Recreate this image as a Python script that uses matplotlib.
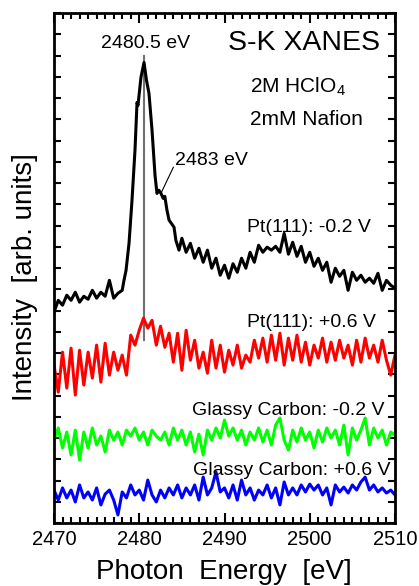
"""S-K XANES spectra: Pt(111) and glassy carbon at two potentials."""

import matplotlib

matplotlib.use("Agg")
import matplotlib.pyplot as plt
import numpy as np

# energy grid shared by the three noisy traces (0.5 eV steps)
ENERGY = np.arange(2470.0, 2510.01, 0.5)

# Pt(111) at -0.2 V, denser sampling across the white line
PT_NEG_ENERGY = [
    2470.0, 2470.5, 2471.0, 2471.5, 2472.0, 2472.5, 2473.0, 2473.5, 2474.0,
    2474.5, 2475.0, 2475.5, 2476.0, 2476.5, 2477.0, 2477.5, 2478.0, 2478.2,
    2478.45, 2478.8, 2479.15, 2479.5, 2479.74, 2479.85, 2480.2, 2480.56,
    2480.85, 2481.14, 2481.5, 2481.85, 2482.08, 2482.3, 2482.55, 2482.8,
    2483.0, 2483.25, 2483.5, 2483.84, 2484.08, 2484.3, 2484.66, 2485.0,
    2485.5, 2486.0, 2486.5, 2487.0, 2487.5, 2488.0, 2488.5, 2489.0, 2489.5,
    2490.0, 2490.5, 2491.0, 2491.5, 2492.0, 2492.5, 2493.0, 2493.5, 2494.0,
    2494.5, 2495.0, 2495.5, 2496.0, 2496.5, 2497.0, 2497.5, 2498.0, 2498.5,
    2499.0, 2499.5, 2500.0, 2500.5, 2501.0, 2501.5, 2502.0, 2502.5, 2503.0,
    2503.5, 2504.0, 2504.5, 2505.0, 2505.5, 2506.0, 2506.5, 2507.0, 2507.5,
    2508.0, 2508.5, 2509.0, 2509.5, 2510.0,
]
PT_NEG = [
    9.92, 10.48, 10.25, 10.72, 10.48, 10.86, 10.39, 10.67, 10.53,
    10.95, 10.58, 10.86, 10.67, 11.42, 10.58, 10.81, 10.95, 11.4,
    11.89, 13.16, 15.19, 17.54, 19.79, 19.65, 20.97, 21.67,
    20.83, 20.22, 18.48, 16.36, 15.51, 15.66, 15.51, 15.28,
    15.37, 14.72, 14.25, 14.06, 13.92, 13.3, 12.84, 13.4,
    12.74, 13.16, 12.46, 12.93, 12.27, 12.84, 11.99, 12.46, 11.66,
    12.13, 11.52, 12.2, 11.8, 12.46, 11.99, 12.74, 12.27, 13.07,
    12.74, 12.98, 12.84, 13.02, 12.74, 13.63, 12.65, 13.21, 12.55,
    13.02, 12.27, 12.74, 12.08, 12.46, 11.89, 12.27, 11.33, 11.99,
    11.61, 11.89, 10.95, 11.8, 11.42, 11.66, 11.33, 11.52, 11.28,
    11.75, 10.95, 11.42, 11.19, 11.05,
]

PT_POS = [
    7.43, 6.16, 8.04, 6.35, 8.23, 6.02, 8.13, 6.49, 8.04, 6.82,
    8.37, 6.63, 8.46, 6.96, 8.04, 7.19, 7.90, 6.96, 8.84, 8.37,
    9.07, 9.64, 9.17, 9.54, 8.37, 9.26, 8.27, 8.93, 7.57, 8.93,
    7.19, 9.07, 7.66, 8.60, 7.29, 8.04, 7.05, 8.60, 7.29, 8.37,
    7.10, 8.13, 7.43, 8.37, 7.29, 7.90, 7.57, 8.60, 7.76, 8.70,
    7.57, 8.84, 7.66, 8.93, 7.43, 8.70, 7.66, 8.84, 7.57, 8.51,
    7.43, 8.37, 7.76, 8.70, 7.57, 8.51, 7.66, 8.60, 7.76, 8.37,
    7.43, 8.60, 7.57, 8.70, 7.76, 8.37, 7.57, 8.60, 7.66, 6.96,
    7.90,
]

GC_NEG = [
    3.90, 4.47, 3.53, 4.28, 3.20, 4.37, 2.96, 4.28, 3.53, 4.47,
    3.67, 4.09, 3.34, 4.37, 3.90, 4.28, 3.67, 4.37, 4.09, 4.47,
    3.90, 4.28, 3.67, 4.37, 4.09, 3.90, 4.28, 3.67, 4.47, 3.90,
    4.37, 3.67, 4.28, 3.34, 4.18, 3.20, 4.37, 3.90, 4.47, 4.00,
    4.84, 4.09, 4.47, 3.90, 4.37, 3.67, 4.28, 3.90, 4.47, 3.81,
    4.37, 3.67, 4.61, 4.94, 3.90, 3.43, 4.37, 3.81, 4.47, 3.90,
    4.28, 3.53, 4.37, 3.81, 4.47, 4.00, 4.37, 3.67, 4.61, 3.20,
    4.47, 3.90, 4.37, 4.94, 3.67, 4.47, 4.00, 4.37, 3.67, 4.28,
    4.14,
]

GC_POS = [
    1.55, 1.08, 1.65, 1.18, 1.55, 0.99, 1.79, 1.18, 1.46, 1.08,
    1.65, 0.85, 1.36, 1.55, 1.08, 0.38, 1.46, 1.18, 1.79, 1.32,
    1.55, 1.08, 2.02, 1.32, 0.99, 1.55, 1.18, 1.65, 1.32, 1.79,
    1.18, 1.65, 1.32, 1.79, 1.08, 2.16, 1.32, 1.65, 2.40, 1.46,
    1.65, 1.18, 1.79, 1.08, 2.02, 1.32, 1.65, 1.08, 1.55, 1.32,
    1.79, 1.18, 1.65, 0.85, 1.93, 1.32, 1.65, 1.32, 1.79, 1.46,
    1.83, 1.55, 1.79, 1.32, 1.65, 0.85, 1.79, 1.46, 1.69, 1.41,
    1.79, 1.55, 1.93, 2.16, 1.55, 1.79, 1.46, 1.65, 1.41, 1.55,
    1.32,
]

TRACES = (
    (PT_POS, "#ff0000", "Pt(111): +0.6 V", 2492.6, 9.21),
    (GC_NEG, "#00ff00", "Glassy Carbon: -0.2 V", 2486.2, 5.08),
    (GC_POS, "#0000ff", "Glassy Carbon: +0.6 V", 2486.3, 2.26),
)


def main() -> None:
    plt.rcParams.update(
        {
            "font.family": ["Liberation Sans", "DejaVu Sans"],
            "mathtext.default": "regular",
        }
    )
    fig = plt.figure(figsize=(4.19, 5.86), dpi=100)
    ax = fig.add_axes((54 / 419, 63 / 586, 341 / 419, 510 / 586))

    ax.plot(PT_NEG_ENERGY, PT_NEG, color="black", linewidth=2.2)
    ax.text(2492.6, 13.68, "Pt(111): -0.2 V", fontsize=14, va="baseline")
    for values, color, label, x_text, y_text in TRACES:
        ax.plot(ENERGY, values, color=color, linewidth=2.2)
        ax.text(x_text, y_text, label, fontsize=14, va="baseline")

    # marker at the white-line maximum
    ax.plot([2480.5, 2480.5], [8.6, 22.0], color="#707070", linewidth=1.5,
            zorder=1)
    ax.text(2480.7, 22.33, "2480.5 eV", fontsize=14, ha="center",
            va="baseline")
    ax.plot([2482.6, 2484.0], [15.56, 16.74], color="black", linewidth=0.8)
    ax.text(2484.2, 16.83, "2483 eV", fontsize=14, va="baseline")

    ax.text(2490.4, 22.24, "S-K XANES", fontsize=20.5, va="baseline")
    ax.text(2493.0, 20.26, "2M HClO$_4$", fontsize=15, va="baseline")
    ax.text(2493.0, 18.71, "2mM Nafion", fontsize=15, va="baseline")

    ax.set_xlim(2470, 2510)
    ax.set_ylim(0, 24)
    ax.set_xticks(np.arange(2470, 2511, 10))
    ax.set_xticks(np.arange(2470, 2511, 1), minor=True)
    ax.set_yticks(np.arange(0, 25, 1))
    ax.set_yticklabels([])
    ax.tick_params(axis="both", which="both", direction="in",
                   top=True, right=True, width=1.5)
    ax.tick_params(axis="x", which="major", length=7, labelsize=14.5, pad=5)
    ax.tick_params(axis="x", which="minor", length=4)
    ax.tick_params(axis="y", which="major", length=5)
    for spine in ax.spines.values():
        spine.set_linewidth(2)

    fig.text(0.535, 0.012, "Photon  Energy  [eV]", fontsize=20,
             ha="center", va="baseline")
    fig.text(25 / 419, 0.527, "Intensity  [arb. units]", fontsize=20,
             rotation=90, ha="center", va="center")

    fig.savefig("out.png", dpi=100)
    plt.close(fig)


if __name__ == "__main__":
    main()
